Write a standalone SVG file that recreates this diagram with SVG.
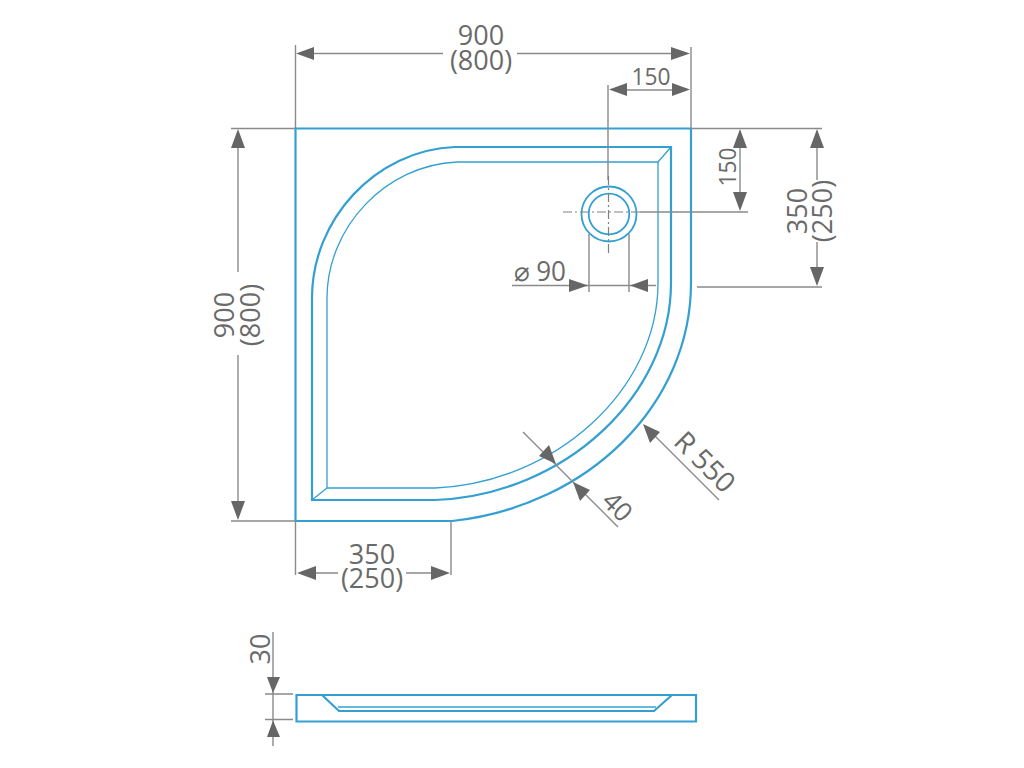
<svg xmlns="http://www.w3.org/2000/svg" width="1024" height="768" viewBox="0 0 1024 768">
<defs>
<style>
.d{stroke:#8a8a8a;stroke-width:1.4;fill:none}
.c{stroke:#808080;stroke-width:1.2;fill:none;stroke-dasharray:9 3 2 3}
.a{fill:#666}
.b{stroke:#34a0d2;stroke-width:2.2;fill:none;stroke-linejoin:miter}
.t{stroke:#34a0d2;stroke-width:1.3;fill:none}
text{font-family:"Open Sans","Noto Sans","Liberation Sans",sans-serif;font-size:27px;fill:#6a6a6a;text-anchor:middle}
</style>
</defs>
<rect width="1024" height="768" fill="#fff"/>
<g id="tray-plan">
<path class="b" d="M295.500 128.500H691V283C691 403 590 506 452 521H295.500Z"/>
<path class="b" d="M671 147H455C375 150 312 220 312 298V500H435C565 495 671 395 671 283Z"/>
<path class="t" d="M658 162H457C385 165 327 228 327 298V488H435C555 483 658 390 658 283Z"/>
<path class="t" d="M671 147L658 162M312 500L327 488"/>
</g>
<g id="drain">
<circle class="b" cx="609" cy="214" r="27.500" style="stroke-width:1.800"/>
<circle class="b" cx="609" cy="214" r="20.300" style="stroke-width:1.800"/>
</g>
<g id="tray-side">
<path class="b" d="M296.500 695H696V721.500H296.500Z"/>
<path class="b" d="M322 695L339 711H654L672 695"/>
<path class="t" d="M338 707H656"/>
</g>
<g id="connectors">
<path class="d" d="M295.500 45V128M691 47V128M231 128.500H295M691 128.500H822M231 521H295M295.500 521V575M451 521V575"/>
<path class="d" d="M310 53.500H443M517 53.500H677M608 85V180M622 90H678M740 143V197M640 212H748M697 287H822M817 143V180M817 242V272"/>
<path class="d" d="M238 143V272M238 355V506M310 573H338M406 573H437"/>
<path class="d" d="M589 234V292M629 234V292M512 285.500H656"/>
<path class="d" d="M653 434L719 500M523 432L618 527"/>
<path class="d" d="M273 632V746M265 694H293M265 719.500H293"/>
<path class="c" d="M563 212H640M608.500 176V254"/>
<g class="a">
<path d="M296 53.500L314 47V60ZM690 53.500L671 47V60Z"/>
<path d="M609 89.500L627 83V96ZM690 89.500L672 83V96Z"/>
<path d="M740 129L733 148H747ZM740 211L733 192H747Z"/>
<path d="M817 129L810 148H824ZM817 286L810 267H824Z"/>
<path d="M238 129L231 148H245ZM238 520L231 501H245Z"/>
<path d="M297 573L316 566V580ZM450 573L431 566V580Z"/>
<path d="M588 285.500L569 279V292ZM630 285.500L648 279V292Z"/>
<path d="M643 424L660 432L650 443Z"/>
<path d="M556 464L539 456L549 445Z"/>
<path d="M573 482L590 490L580 501Z"/>
<path d="M273 693L267 677H280ZM273 720.500L267 737H280Z"/>
</g>
</g>
<g id="labels">
<text x="481" y="45">900</text>
<text x="481" y="70">(800)</text>
<text x="651" y="85" style="font-size:24px" textLength="39" lengthAdjust="spacingAndGlyphs">150</text>
<text transform="translate(736 167) rotate(-90)" style="font-size:24px" textLength="39" lengthAdjust="spacingAndGlyphs">150</text>
<text transform="translate(807 211) rotate(-90)">350</text>
<text transform="translate(832 211) rotate(-90)">(250)</text>
<text transform="translate(234 315) rotate(-90)">900</text>
<text transform="translate(260 315) rotate(-90)">(800)</text>
<text x="372" y="564">350</text>
<text x="372" y="588">(250)</text>
<text x="540" y="281" style="font-size:27px" textLength="52" lengthAdjust="spacingAndGlyphs">⌀ 90</text>
<text transform="translate(698 469) rotate(45)" style="font-size:28px">R 550</text>
<text transform="translate(611 513) rotate(45)" style="font-size:26px">40</text>
<text transform="translate(270 649) rotate(-90)" style="font-size:27px">30</text>
</g>
</svg>
